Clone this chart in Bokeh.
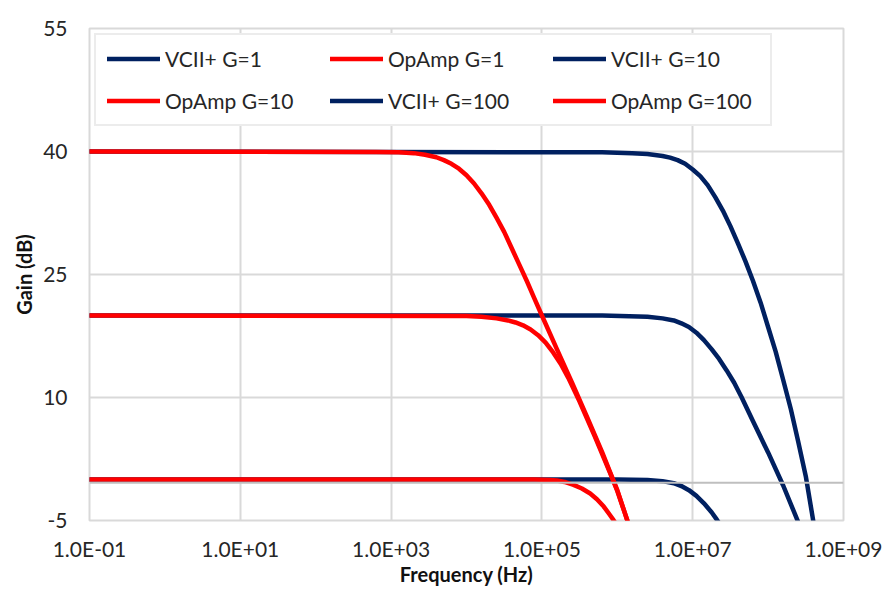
from bokeh.plotting import figure
from bokeh.models import FixedTicker, Span, Legend, LegendItem, Range1d
from bokeh.embed import file_html
from bokeh.resources import INLINE

# ---------------- data ----------------
x_ticks = [1e-1, 1e1, 1e3, 1e5, 1e7, 1e9]
x_tick_labels = ["1.0E-01", "1.0E+01", "1.0E+03", "1.0E+05", "1.0E+07", "1.0E+09"]
y_ticks = [-5, 10, 25, 40, 55]
y_tick_labels = ["-5", "10", "25", "40", "55"]

# VCII+ G=1
vcii1_f = [1e-1, 1.0e6, 2.51e6, 3.98e6, 5.62e6, 7.08e6, 8.91e6, 1.12e7, 1.41e7, 1.78e7, 2.09e7, 2.51e7]
vcii1_g = [0.0, 0.0, -0.05, -0.2, -0.45, -0.8, -1.3, -2.0, -2.9, -4.0, -4.9, -6.0]

# OpAmp G=1
op1_f = [1e-1, 7.94e4, 1.26e5, 1.58e5, 2.0e5, 2.63e5, 3.39e5, 4.37e5, 5.37e5, 6.61e5, 7.94e5, 8.91e5, 1.05e6]
op1_g = [0.0, 0.0, -0.05, -0.12, -0.3, -0.65, -1.1, -1.7, -2.4, -3.3, -4.3, -4.95, -6.0]

# VCII+ G=10
vcii10_f = [1e-1, 6.31e5, 2.51e6, 3.98e6, 5.62e6, 7.08e6, 8.91e6, 1.12e7, 1.41e7, 1.78e7, 2.24e7,
            2.82e7, 3.55e7, 4.47e7, 6.31e7, 1.0e8, 1.58e8, 2.51e8]
vcii10_g = [20.0, 20.0, 19.85, 19.65, 19.4, 19.05, 18.6, 17.9, 17.0, 15.9, 14.7,
            13.3, 11.8, 10.0, 7.1, 3.3, -0.7, -5.2]

# OpAmp G=10
op10_f = [1e-1, 1.0e4, 1.58e4, 2.51e4, 3.55e4, 4.47e4, 5.62e4, 7.08e4, 8.91e4, 1.12e5, 1.41e5,
          1.78e5, 2.24e5, 3.16e5, 5.01e5, 7.94e5, 1.0e6, 1.26e6, 1.58e6]
op10_g = [20.0, 19.95, 19.85, 19.65, 19.4, 19.15, 18.8, 18.3, 17.6, 16.7, 15.5,
          14.1, 12.4, 9.5, 5.3, 0.9, -1.4, -4.1, -6.8]

# VCII+ G=100
vcii100_f = [1e-1, 6.31e5, 1.58e6, 2.51e6, 3.98e6, 5.01e6, 6.31e6, 7.94e6, 1.0e7, 1.26e7, 1.58e7,
             2.0e7, 2.51e7, 3.16e7, 3.98e7, 5.01e7, 6.31e7, 7.94e7, 1.0e8, 1.26e8, 1.58e8,
             2.0e8, 2.51e8, 3.16e8, 3.98e8, 4.47e8]
vcii100_g = [40.0, 39.9, 39.8, 39.7, 39.45, 39.25, 38.95, 38.5, 37.8, 37.0, 35.9,
             34.4, 32.8, 30.9, 28.8, 26.6, 24.2, 21.6, 18.6, 15.6, 12.2,
             8.6, 4.6, 0.4, -5.1, -7.8]

# OpAmp G=100
op100_f = [1e-1, 6.31e2, 1.26e3, 2.0e3, 2.82e3, 3.98e3, 5.01e3, 6.31e3, 7.94e3, 1.0e4, 1.26e4,
           1.58e4, 2.0e4, 2.51e4, 3.16e4, 3.98e4, 5.01e4, 6.31e4, 7.94e4, 1.0e5, 1.58e5,
           2.51e5, 3.98e5, 6.31e5, 7.94e5, 1.0e6, 1.26e6, 1.58e6]
op100_g = [40.0, 39.95, 39.9, 39.8, 39.6, 39.3, 38.95, 38.5, 37.9, 37.1, 36.1,
           34.9, 33.5, 31.9, 30.2, 28.2, 26.2, 24.2, 22.1, 20.0, 15.9,
           11.8, 7.6, 3.3, 1.0, -1.3, -4.1, -6.8]

series = [
    ("VCII+ G=1", vcii1_f, vcii1_g, "#002060"),
    ("OpAmp G=1", op1_f, op1_g, "#FF0000"),
    ("VCII+ G=10", vcii10_f, vcii10_g, "#002060"),
    ("OpAmp G=10", op10_f, op10_g, "#FF0000"),
    ("VCII+ G=100", vcii100_f, vcii100_g, "#002060"),
    ("OpAmp G=100", op100_f, op100_g, "#FF0000"),
]

FONT = "Lato"
TXT = "#262626"
GRID = "#d9d9d9"

p = figure(width=887, height=589, x_axis_type="log",
           x_range=Range1d(1e-1, 1e9), y_range=Range1d(-5, 55),
           output_backend="svg", toolbar_location=None,
           min_border_left=89, min_border_right=44, min_border_top=28, min_border_bottom=69)
p.background_fill_color = "white"
p.border_fill_color = "white"
p.outline_line_color = GRID
p.outline_line_width = 2

# axes
p.xaxis.ticker = FixedTicker(ticks=x_ticks, minor_ticks=[])
p.xaxis.major_label_overrides = {t: l for t, l in zip(x_ticks, x_tick_labels)}
p.yaxis.ticker = FixedTicker(ticks=y_ticks, minor_ticks=[])
p.yaxis.major_label_overrides = {t: l for t, l in zip(y_ticks, y_tick_labels)}
for ax in (p.xaxis[0], p.yaxis[0]):
    ax.axis_line_color = None
    ax.major_tick_line_color = None
    ax.minor_tick_line_color = None
    ax.major_tick_out = 0
    ax.major_tick_in = 0
    ax.major_label_text_font = FONT
    ax.major_label_text_font_size = "21px"
    ax.major_label_text_color = TXT
    ax.axis_label_text_font = FONT
    ax.axis_label_text_font_size = "20px"
    ax.axis_label_text_font_style = "bold"
    ax.axis_label_text_color = "#111111"
p.xaxis.major_label_standoff = 15
p.yaxis.major_label_standoff = 22
p.xaxis.axis_label = "Frequency (Hz)"
p.yaxis.axis_label = "Gain (dB)"
p.xaxis.axis_label_standoff = -2
p.yaxis.axis_label_standoff = 4

p.xgrid.ticker = FixedTicker(ticks=x_ticks)
p.ygrid.ticker = FixedTicker(ticks=y_ticks)
for g in (p.xgrid[0], p.ygrid[0]):
    g.grid_line_color = GRID
    g.grid_line_width = 2

# horizontal axis line (crosses just below 0 dB)
p.add_layout(Span(location=-0.4, dimension="width", line_color="#bfbfbf", line_width=2))

items = []
for name, f, g, c in series:
    r = p.line(f, g, line_color=c, line_width=4.5, line_cap="round", line_join="round")
    items.append(LegendItem(label=name, renderers=[r]))

legend = Legend(items=items, orientation="horizontal", ncols=3,
                location="top_left", margin=5, padding=11, spacing=17,
                glyph_width=53, glyph_height=25, label_height=25, label_width=148,
                label_standoff=5,
                label_text_font=FONT, label_text_font_size="21px", label_text_color=TXT,
                border_line_color=GRID, border_line_width=2,
                background_fill_color="white", background_fill_alpha=1.0)
p.add_layout(legend, "center")

open("out.html", "w").write(file_html(p, INLINE))
